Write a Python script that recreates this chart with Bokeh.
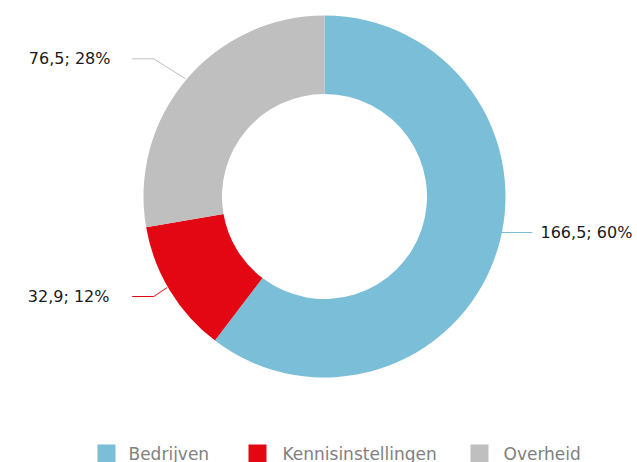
import math
from bokeh.plotting import figure
from bokeh.models import Range1d, ColumnDataSource
from bokeh.core.properties import value
from bokeh.embed import file_html
from bokeh.resources import INLINE

# ---- data ----
categories = ["Bedrijven", "Kennisinstellingen", "Overheid"]
values = [166.5, 32.9, 76.5]
colors = ["#7BBED8", "#E30613", "#BFBFBF"]

# ---- layout (screen-pixel coordinates; y data = -screen y) ----
W, H = 637, 462
FONT = "DejaVu Sans"
cx, cy = 324, 196
r_out, r_in = 181, 102.5

p = figure(width=W, height=H, output_backend="svg", toolbar_location=None,
           x_range=Range1d(0, W), y_range=Range1d(-H, 0),
           min_border=0)
p.axis.visible = False
p.grid.visible = False
p.outline_line_color = None
p.background_fill_color = "white"
p.border_fill_color = "white"

total = sum(values)
starts, ends = [], []
a = math.pi / 2
for v in values:
    starts.append(a)
    a = a - v / total * 2 * math.pi
    ends.append(a)

src = ColumnDataSource(dict(x=[cx] * 3, y=[-cy] * 3, s=starts, e=ends, c=colors))
p.annular_wedge(x="x", y="y", inner_radius=r_in, outer_radius=r_out,
                start_angle="s", end_angle="e", direction="clock",
                fill_color="c", line_color=None, source=src)

def fmt(v):
    pct = round(v / total * 100)
    return f"{v:.1f}".replace(".", ",") + f"; {pct}%"

labels = [fmt(v) for v in values]

# connectors (layout positions)
conn = {
    0: ([500, 532], [232, 232]),
    1: ([131.7, 153.3, 166.7], [296, 296, 287]),
    2: ([131.7, 153.3, 185], [58.3, 58.3, 78.3]),
}
for i, (xs, ys) in conn.items():
    p.line(xs, [-y for y in ys], line_color=colors[i], line_width=1)

lab_pos = [(540, 232, "left"), (109, 296, "right"), (110, 58, "right")]
for i, (x, y, al) in enumerate(lab_pos):
    p.text(x=[x], y=[-y], text=[labels[i]], text_align=al, text_baseline="middle",
           text_font=value(FONT), text_font_size="16px", text_color="#1a1a1a")

# legend
leg_sq_x = [97, 248, 470]
leg_tx_x = [128, 282, 503]
ly = 453
for i in range(3):
    p.rect(x=[leg_sq_x[i] + 9], y=[-ly], width=18, height=18,
           fill_color=colors[i], line_color=None)
    p.text(x=[leg_tx_x[i]], y=[-ly], text=[categories[i]], text_align="left",
           text_baseline="middle", text_font=value(FONT), text_font_size="17px",
           text_color="#808080")

open("out.html", "w").write(file_html(p, INLINE))
